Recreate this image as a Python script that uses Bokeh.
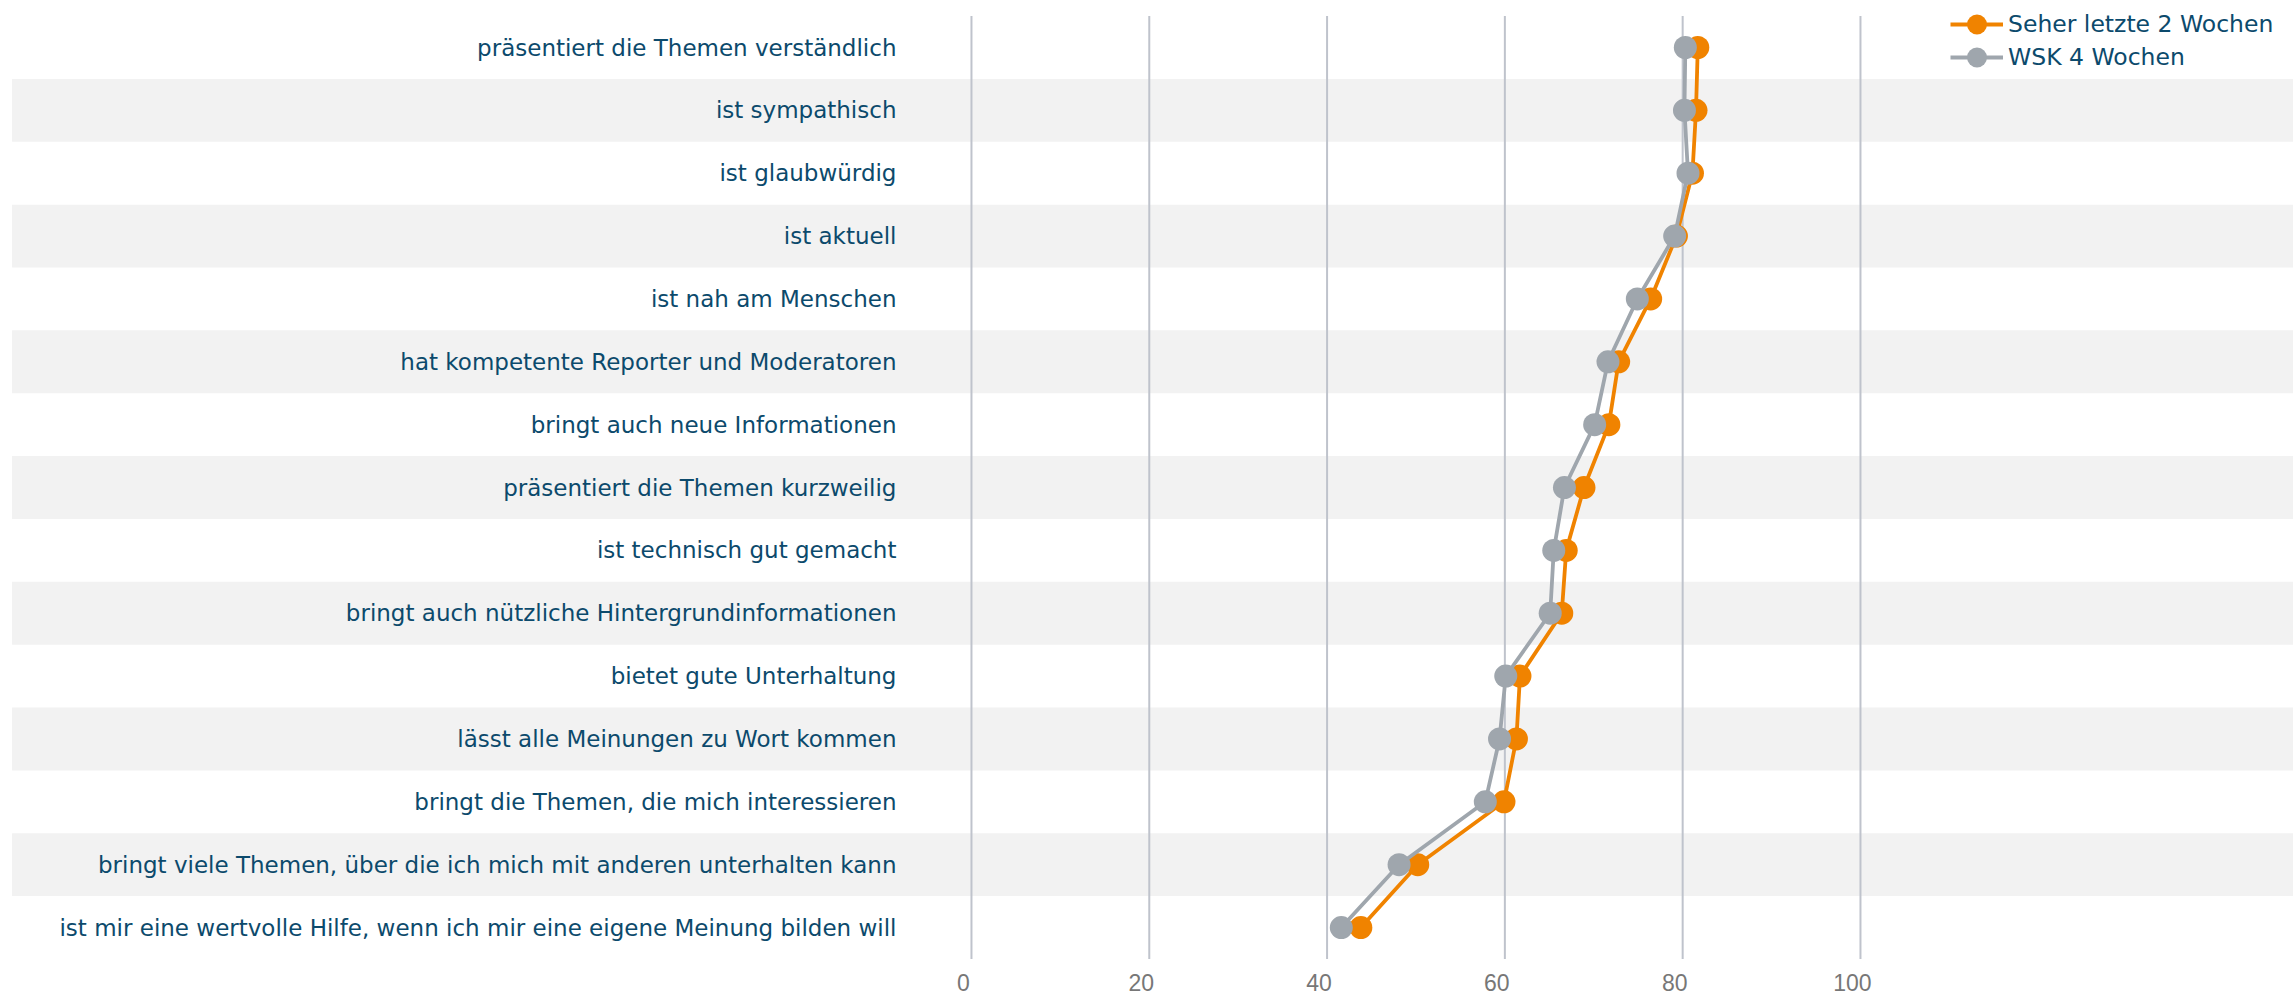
from bokeh.plotting import figure
from bokeh.models import Range1d, Legend, LegendItem, ColumnDataSource
from bokeh.core.properties import value
from bokeh.embed import file_html
from bokeh.resources import INLINE

categories = [
    "präsentiert die Themen verständlich",
    "ist sympathisch",
    "ist glaubwürdig",
    "ist aktuell",
    "ist nah am Menschen",
    "hat kompetente Reporter und Moderatoren",
    "bringt auch neue Informationen",
    "präsentiert die Themen kurzweilig",
    "ist technisch gut gemacht",
    "bringt auch nützliche Hintergrundinformationen",
    "bietet gute Unterhaltung",
    "lässt alle Meinungen zu Wort kommen",
    "bringt die Themen, die mich interessieren",
    "bringt viele Themen, über die ich mich mit anderen unterhalten kann",
    "ist mir eine wertvolle Hilfe, wenn ich mir eine eigene Meinung bilden will",
]
seher_2_wochen = [81.7, 81.5, 81.1, 79.3, 76.4, 72.8, 71.7, 68.9, 66.9, 66.4, 61.7, 61.3, 59.9, 50.2, 43.8]
wsk_4_wochen = [80.3, 80.2, 80.6, 79.1, 74.9, 71.6, 70.1, 66.7, 65.5, 65.1, 60.1, 59.4, 57.8, 48.1, 41.6]
series_names = ["Seher letzte 2 Wochen", "WSK 4 Wochen"]
x_ticks = [0, 20, 40, 60, 80, 100]

ORANGE = "#f08300"
GRAY = "#9fa6ad"
TEXT = "#0c4a6c"
GRID = "#bfc3cc"
BAND = "#f2f2f2"
FONT = "DejaVu Sans"

n = len(categories)
ys = [-i for i in range(n)]

W, H = 2293, 997
x0, x1 = -109.22, 148.71
y_top, y_bot = 0.7477, -15.113

p = figure(width=W, height=H, output_backend="svg", toolbar_location=None,
           x_range=Range1d(x0, x1), y_range=Range1d(y_bot, y_top),
           x_axis_type=None, y_axis_type=None, min_border=0,
           outline_line_color=None, background_fill_color="white")
p.grid.visible = False

# alternating bands
band_y = [ys[i] for i in range(n) if i % 2 == 1]
p.hbar(y=band_y, height=1, left=x0 + 1.3, right=x1, color=BAND, line_color=None)

# vertical grid lines
p.segment(x0=x_ticks, x1=x_ticks, y0=[ys[0] + 0.5] * len(x_ticks), y1=[ys[-1] - 0.5] * len(x_ticks),
          line_color=GRID, line_width=2)

# tick labels
p.text(x=x_ticks, y=[ys[-1] - 0.874] * len(x_ticks), text=[str(t) for t in x_ticks],
       text_align="center", text_baseline="middle", x_offset=-8,
       text_font=value("Liberation Sans"), text_font_size="23px", text_color="#777777")

# category labels
p.text(x=[0] * n, y=ys, text=categories, text_align="right", text_baseline="middle",
       x_offset=-75, y_offset=0, text_font=value(FONT), text_font_size="23px", text_color=TEXT)

src1 = ColumnDataSource(dict(x=seher_2_wochen, y=ys))
src2 = ColumnDataSource(dict(x=wsk_4_wochen, y=ys))
l1 = p.line("x", "y", source=src1, line_color=ORANGE, line_width=3.8)
m1 = p.scatter("x", "y", source=src1, size=23, fill_color=ORANGE, line_color=None)
l2 = p.line("x", "y", source=src2, line_color=GRAY, line_width=3.8)
m2 = p.scatter("x", "y", source=src2, size=23, fill_color=GRAY, line_color=None)

legend_style = dict(orientation="vertical",
                    label_text_font=FONT, label_text_font_size="23.5px", label_text_color=TEXT,
                    glyph_width=53, glyph_height=50, label_height=50, spacing=0,
                    padding=0, margin=0, label_standoff=5,
                    border_line_color=None, background_fill_alpha=0)
legend1 = Legend(items=[LegendItem(label=series_names[0], renderers=[l1, m1])],
                 location=(1950, 948), **legend_style)
legend2 = Legend(items=[LegendItem(label=series_names[1], renderers=[l2, m2])],
                 location=(1950, 915), **legend_style)
p.add_layout(legend1, "center")
p.add_layout(legend2, "center")

open("out.html", "w").write(file_html(p, INLINE))
